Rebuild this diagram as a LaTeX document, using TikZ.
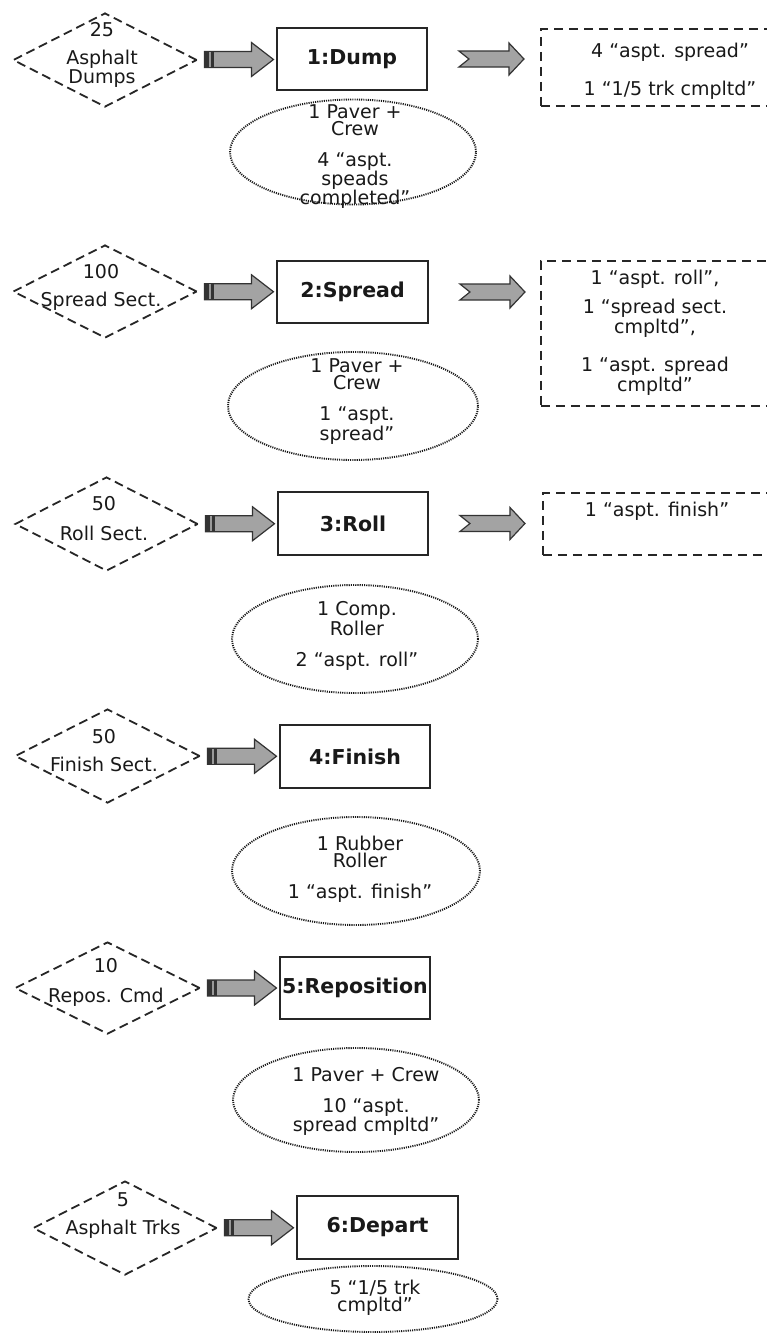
\documentclass[tikz,border=0pt]{standalone}
\usepackage{fontspec}
\setmainfont{DejaVu Sans}
\usetikzlibrary{shapes.geometric,calc}
\tikzset{
  srcbox/.style={diamond, draw=black!85, line width=1.8pt, dash pattern=on 9pt off 5pt,
    minimum width=184pt, minimum height=94pt, inner sep=0pt},
  srctext/.style={align=center, font=\fontsize{19}{15.5}\selectfont, inner sep=0pt, text=black!90},
  actbox/.style={rectangle, draw=black!85, line width=1.9pt, minimum width=150pt,
    minimum height=62pt, inner sep=0pt, font=\fontsize{20.5}{22}\selectfont\bfseries, text=black!90},
  resell/.style={ellipse, draw=black!90, line width=1.9pt, dash pattern=on 1.1pt off 1.1pt,
    inner sep=0pt},
  restext/.style={align=center, font=\fontsize{19}{17}\selectfont, inner sep=0pt, text=black!90},
  outbox/.style={rectangle, draw=black!85, line width=1.8pt, dash pattern=on 9pt off 6pt,
    minimum width=250pt, anchor=north west, inner sep=0pt},
  outtext/.style={align=center, font=\fontsize{19}{17}\selectfont, inner sep=0pt, text=black!90},
  blockarrow/.pic={
    \path[draw=black!80, line width=1.2pt, fill=black!36]
      (-34.5,-8) -- (12.5,-8) -- (12.5,-17) -- (34.5,0) -- (12.5,17) -- (12.5,8) -- (-34.5,8) -- cycle;
    \fill[black!80] (-34.5,-8) rectangle (-25,8);
    \draw[black!40, line width=1.2pt] (-29,-7.4) -- (-29,7.4);
  },
  chevronarrow/.pic={
    \path[draw=black!80, line width=1.2pt, fill=black!36]
      (-32.5,-8) -- (17.5,-8) -- (17.5,-16) -- (32.5,0) -- (17.5,16) -- (17.5,8) -- (-32.5,8) -- (-22.5,0) -- cycle;
  }
}
\begin{document}
\begin{tikzpicture}[x=1pt,y=-1pt]
\useasboundingbox (0,0) rectangle (767,1339);
\fill[white] (0,0) rectangle (767,1339);
\clip (0,0) rectangle (767,1339);

% ---------- Row 1 ----------
\node[srcbox] (d1) at (105,60) {};
\node[srctext] (d1t) at (102,55) {25\\[13pt]Asphalt\\Dumps};
\node[actbox] (b1) at (352,59) {1:Dump};
\node[resell, minimum width=246pt, minimum height=105pt] (e1) at (353,152) {};
\node[restext] (e1t) at (355,156.5) {1 Paver +\\Crew\\[14pt]4 “aspt.\\speads\\completed”};
\node[outbox, minimum height=77pt] (o1) at (540,28) {};
\node[outtext] (o1t) at (670,71.5) {4 “aspt. spread”\\[19pt]1 “1/5 trk cmpltd”};
\pic at ($(d1.east)!0.5!(b1.west)+(2,0)$) {blockarrow};
\pic at ($(b1.east)+(63.5,0)$) {chevronarrow};

% ---------- Row 2 ----------
\node[srcbox, minimum height=93pt] (d2) at (105,291.5) {};
\node[srctext] (d2t) at (101,287.5) {100\\[13pt]Spread Sect.};
\node[actbox, minimum width=151pt] (b2) at (352.5,292) {2:Spread};
\node[resell, minimum width=250pt, minimum height=108pt] (e2) at (353,406) {};
\node[restext] (e2t) at (357,401.5) {1 Paver +\\Crew\\[14pt]1 “aspt.\\spread”};
\node[outbox, minimum height=145pt] (o2) at (540,260) {};
\node[outtext] (o2t) at (655,332.5) {1 “aspt. roll”,\\[10pt]1 “spread sect.\\cmpltd”,\\[19pt]1 “aspt. spread\\cmpltd”};
\pic at ($(d2.east)!0.5!(b2.west)+(2,0)$) {blockarrow};
\pic at ($(b2.east)+(63.5,0)$) {chevronarrow};

% ---------- Row 3 ----------
\node[srcbox, minimum width=183pt] (d3) at (106.5,524) {};
\node[srctext] (d3t) at (104,518.5) {50\\[15pt]Roll Sect.};
\node[actbox, minimum height=63pt] (b3) at (353,523.5) {3:Roll};
\node[resell, minimum width=246pt, minimum height=108pt] (e3) at (355,639) {};
\node[restext] (e3t) at (357,636) {1 Comp.\\Roller\\[14pt]2 “aspt. roll”};
\node[outbox, minimum height=62pt] (o3) at (542,492) {};
\node[outtext] (o3t) at (657,511.5) {1 “aspt. finish”};
\pic at ($(d3.east)!0.5!(b3.west)+(2,0)$) {blockarrow};
\pic at ($(b3.east)+(63.5,0)$) {chevronarrow};

% ---------- Row 4 ----------
\node[srcbox, minimum width=185pt] (d4) at (107.5,756) {};
\node[srctext] (d4t) at (104,750.5) {50\\[13pt]Finish Sect.};
\node[actbox, minimum height=63pt] (b4) at (355,756.5) {4:Finish};
\node[resell, minimum width=248pt, minimum height=108pt] (e4) at (356,871) {};
\node[restext] (e4t) at (360,869) {1 Rubber\\Roller\\[14pt]1 “aspt. finish”};
\pic at ($(d4.east)!0.5!(b4.west)+(2,0)$) {blockarrow};

% ---------- Row 5 ----------
\node[srcbox, minimum width=185pt, minimum height=92pt] (d5) at (107.5,988) {};
\node[srctext] (d5t) at (106,982.5) {10\\[15pt]Repos. Cmd};
\node[actbox] (b5) at (355,988) {5:Reposition};
\node[resell, minimum width=246pt, minimum height=104pt] (e5) at (356,1100) {};
\node[restext] (e5t) at (366,1101.5) {1 Paver + Crew\\[14pt]10 “aspt.\\spread cmpltd”};
\pic at ($(d5.east)!0.5!(b5.west)+(2,0)$) {blockarrow};

% ---------- Row 6 ----------
\node[srcbox] (d6) at (125,1228) {};
\node[srctext] (d6t) at (123,1215.5) {5\\[13pt]Asphalt Trks};
\node[actbox, minimum width=161pt, minimum height=63pt] (b6) at (377.5,1227.5) {6:Depart};
\node[resell, minimum width=249pt, minimum height=66pt] (e6) at (373,1299) {};
\node[restext] (e6t) at (375,1297.5) {5 “1/5 trk\\cmpltd”};
\pic at ($(d6.east)!0.5!(b6.west)+(2,0)$) {blockarrow};
\end{tikzpicture}
\end{document}
